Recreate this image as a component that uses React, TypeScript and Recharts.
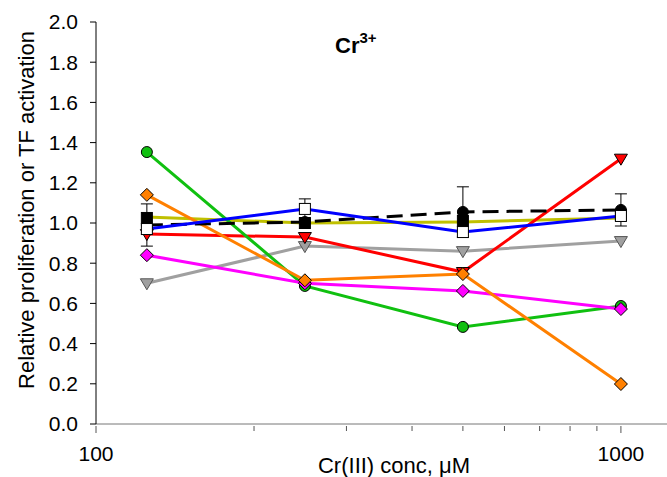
import { LineChart, Line, XAxis, YAxis, ErrorBar, Label } from "recharts";

// concentrations, µM (log axis)
const conc = [125, 250, 500, 1000];

// series
const green = [1.353, 0.687, 0.483, 0.587];
const orange = [1.14, 0.715, 0.746, 0.199];
const magenta = [0.84, 0.7, 0.662, 0.572];
const red = [0.945, 0.93, 0.756, 1.32];
const gray = [0.7, 0.885, 0.86, 0.91];
const olive = [1.03, 1.0, 1.005, 1.025];
const blackCircle = [0.99, 1.005, 1.055, 1.065];
const blackCircleErr = [0.105, null, 0.125, 0.08];
const blackSquare = [1.025, 1.0, 1.01, 1.04];
const blueSquare = [0.97, 1.07, 0.955, 1.035];
const blueSquareErr = [null, 0.05, null, null];

const xTicks = [100, 200, 300, 400, 500, 600, 700, 800, 900, 1000];
const xLabelled = [100, 1000];
const yTicks = [0, 0.2, 0.4, 0.6, 0.8, 1.0, 1.2, 1.4, 1.6, 1.8, 2.0];

const data = conc.map((c, i) => ({
  conc: c,
  green: green[i],
  orange: orange[i],
  magenta: magenta[i],
  red: red[i],
  gray: gray[i],
  olive: olive[i],
  blackCircle: blackCircle[i],
  blackCircleErr: blackCircleErr[i],
  blackSquare: blackSquare[i],
  blueSquare: blueSquare[i],
  blueSquareErr: blueSquareErr[i],
}));

const FONT = "'Liberation Sans', Arial, sans-serif";

// marker shapes
const circleDot = (fill: string) => (p: any) => (
  <circle key={p.index} cx={p.cx} cy={p.cy} r={5.5} fill={fill} stroke="#000" strokeWidth={1} />
);
const diamondDot = (fill: string) => (p: any) => {
  const s = 6.5;
  return (
    <path
      key={p.index}
      d={`M${p.cx},${p.cy - s}L${p.cx + s},${p.cy}L${p.cx},${p.cy + s}L${p.cx - s},${p.cy}Z`}
      fill={fill}
      stroke="#000"
      strokeWidth={1}
    />
  );
};
const triDownDot = (fill: string, stroke: string) => (p: any) => {
  const s = 6.5;
  return (
    <path
      key={p.index}
      d={`M${p.cx - s},${p.cy - 4.5}L${p.cx + s},${p.cy - 4.5}L${p.cx},${p.cy + 6.5}Z`}
      fill={fill}
      stroke={stroke}
      strokeWidth={1}
    />
  );
};
const squareDot = (fill: string) => (p: any) => (
  <rect
    key={p.index}
    x={p.cx - 5.5}
    y={p.cy - 5.5}
    width={11}
    height={11}
    fill={fill}
    stroke="#000"
    strokeWidth={1}
  />
);

const XTick = (p: any) => {
  const v = p.payload.value;
  const major = xLabelled.includes(v);
  return (
    <g>
      <line x1={p.x} y1={p.y - 6} x2={p.x} y2={p.y - 6 + (major ? 7 : 5)} stroke="#555" />
      {major && (
        <text x={p.x} y={p.y + 29} textAnchor="middle" fontSize={21} fontFamily={FONT} fill="#000">
          {v}
        </text>
      )}
    </g>
  );
};

export default function App() {
  return (
    <div style={{ position: "absolute", left: 0, top: 0, width: 667, height: 477, background: "#fff" }}>
      <LineChart width={667} height={477} data={data} margin={{ top: 22, right: 0, bottom: 0, left: 0 }}>
        <XAxis
          dataKey="conc"
          type="number"
          scale="log"
          domain={[100, 1224]}
          allowDataOverflow
          ticks={xTicks}
          interval={0}
          tick={<XTick />}
          tickLine={false}
          axisLine={{ stroke: "#777" }}
          height={53}
        >
          <Label
            content={() => (
              <text x={394} y={473} textAnchor="middle" fontSize={22} fontFamily={FONT} fill="#000">
                Cr(III) conc, μM
              </text>
            )}
          />
        </XAxis>
        <YAxis
          type="number"
          domain={[0, 2]}
          ticks={yTicks}
          interval={0}
          width={96}
          tickFormatter={(v: number) => v.toFixed(1)}
          tick={{ fontSize: 21, fontFamily: FONT, fill: "#000" }}
          tickSize={6}
          tickMargin={12}
          tickLine={{ stroke: "#000" }}
          axisLine={{ stroke: "#000" }}
        >
          <Label
            content={() => (
              <text
                x={26}
                y={210}
                transform="rotate(-90, 26, 210)"
                textAnchor="middle"
                dominantBaseline="central"
                fontSize={22}
                fontFamily={FONT}
                fill="#000"
              >
                Relative proliferation or TF activation
              </text>
            )}
          />
        </YAxis>

        <Line dataKey="gray" stroke="#a0a0a0" strokeWidth={3} dot={triDownDot("#a0a0a0", "#555")} isAnimationActive={false} />
        <Line dataKey="olive" stroke="#c0c000" strokeWidth={3} dot={false} isAnimationActive={false} />
        <Line dataKey="red" stroke="#ff0000" strokeWidth={3} dot={triDownDot("#ff0000", "#000")} isAnimationActive={false} />
        <Line dataKey="green" stroke="#10c010" strokeWidth={3} dot={circleDot("#10c010")} isAnimationActive={false} />
        <Line dataKey="magenta" stroke="#ff00ff" strokeWidth={3} dot={diamondDot("#ff00ff")} isAnimationActive={false} />
        <Line dataKey="orange" stroke="#ff8000" strokeWidth={3} dot={diamondDot("#ff8000")} isAnimationActive={false} />
        <Line
          dataKey="blackCircle"
          stroke="#000"
          strokeWidth={3}
          strokeDasharray="16 8"
          dot={circleDot("#000")}
          isAnimationActive={false}
        >
          <ErrorBar dataKey="blackCircleErr" width={6} stroke="#000" strokeWidth={1} direction="y" />
        </Line>
        <Line dataKey="blackSquare" stroke="none" dot={squareDot("#000")} isAnimationActive={false} />
        <Line dataKey="blueSquare" stroke="#0000ff" strokeWidth={3} dot={squareDot("#fff")} isAnimationActive={false}>
          <ErrorBar dataKey="blueSquareErr" width={6} stroke="#000" strokeWidth={1} direction="y" />
        </Line>
      </LineChart>
      <svg width={667} height={477} style={{ position: "absolute", left: 0, top: 0, pointerEvents: "none" }}>
        <text x={335} y={53} fontFamily={FONT} fontWeight="bold" fontSize={22} fill="#000">
          Cr
          <tspan dy={-10} fontSize={15}>
            3+
          </tspan>
        </text>
      </svg>
    </div>
  );
}
